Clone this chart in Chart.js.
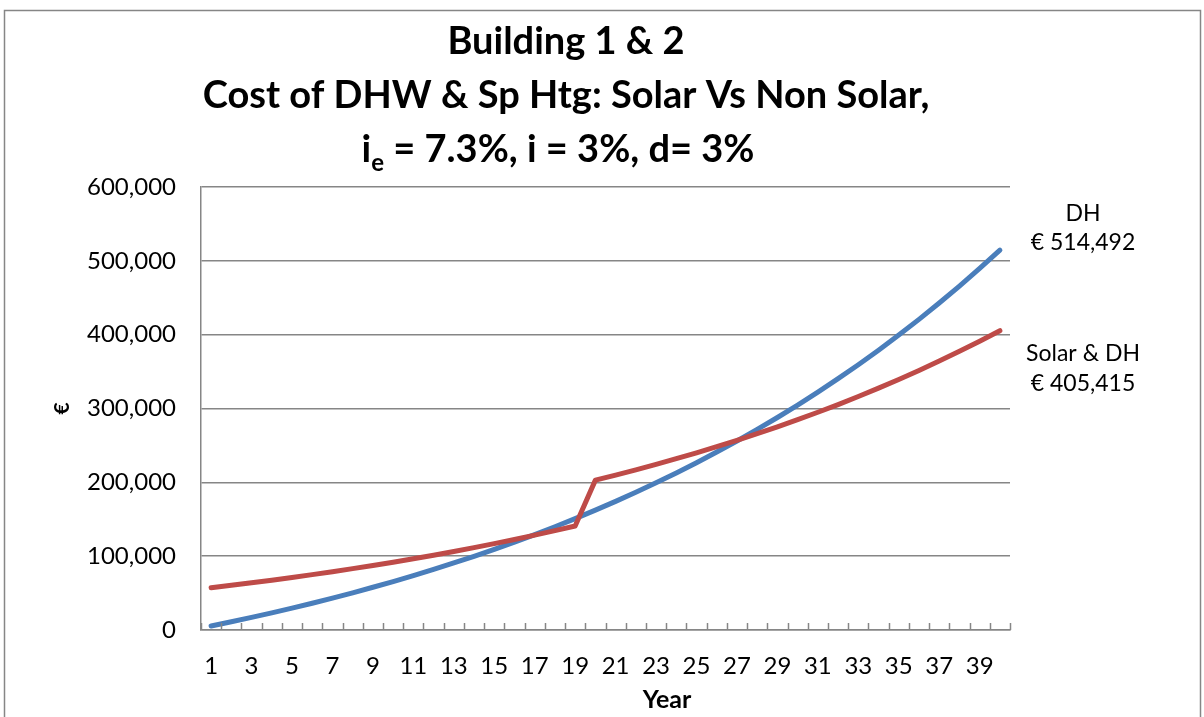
<!DOCTYPE html>
<html><head><meta charset="utf-8">
<script src="https://cdn.jsdelivr.net/npm/chart.js@4.4.1/dist/chart.umd.min.js"></script>
<style>html,body{margin:0;padding:0;background:#fff;overflow:hidden}canvas{display:block}</style>
</head><body>
<canvas id="c" width="1204" height="717"></canvas>
<script>
const years = ["1","2","3","4","5","6","7","8","9","10","11","12","13","14","15","16","17","18","19","20",
  "21","22","23","24","25","26","27","28","29","30","31","32","33","34","35","36","37","38","39","40"];
const dhValues = [5478,11172,17091,23245,29641,36290,43202,50386,57854,65617,
  73687,82077,90796,99860,109283,119078,129260,139843,150846,162282,
  174170,186528,199374,212727,226608,241036,256035,271626,287834,304681,
  322194,340399,359323,378994,399443,420699,442794,465763,489639,514492];
const solarDhValues = [57300,60572,63974,67510,71186,75006,78978,83106,87398,91859,
  96497,101318,106328,111537,116952,122581,128432,134514,140837,203000,
  209832,216934,224316,231989,239966,248258,256877,265836,275150,284832,
  294896,305358,316232,327536,339287,351503,364200,377399,391119,405415];
const seriesNames = ["DH", "Solar & DH"];
const endLabels = [["DH", "€ 514,492"], ["Solar & DH", "€ 405,415"]];
const titleLines = ["Building 1 & 2", "Cost of DHW & Sp Htg: Solar Vs Non Solar,"];
const titleLine3 = { base: "i", sub: "e", rest: " = 7.3%, i = 3%, d= 3%" };
const yAxisTitle = "€";
const xAxisTitle = "Year";

const FONT = "Lato, 'Open Sans', sans-serif";
const GRAY = "#868686";
const BLUE = "#4A7EBB";
const RED = "#BE4B48";

const decor = {
  id: "decor",
  beforeDraw(chart) {
    const ctx = chart.ctx;
    ctx.save();
    ctx.fillStyle = "#fff";
    ctx.fillRect(0, 0, chart.width, chart.height);
    ctx.strokeStyle = GRAY;
    ctx.lineWidth = 1.5;
    ctx.strokeRect(4.5, 10.5, 1196, 800);
    ctx.restore();
  },
  afterDraw(chart) {
    const ctx = chart.ctx, x = chart.scales.x, y = chart.scales.y, ca = chart.chartArea;
    ctx.save();
    // inside tick marks on category axis
    ctx.strokeStyle = GRAY; ctx.lineWidth = 1.5;
    const half = (x.getPixelForValue(1) - x.getPixelForValue(0)) / 2;
    for (let i = 0; i <= years.length; i++) {
      const px = Math.round(x.getPixelForValue(i) - half) + 0.5;
      ctx.beginPath(); ctx.moveTo(px, ca.bottom); ctx.lineTo(px, ca.bottom - 7); ctx.stroke();
    }
    // title
    ctx.fillStyle = "#000";
    ctx.textAlign = "center"; ctx.textBaseline = "alphabetic";
    const big = "bold 38px " + FONT, small = "bold 24px " + FONT;
    ctx.font = big;
    ctx.fillText(titleLines[0], 566, 54);
    ctx.fillText(titleLines[1], 566, 108);
    const w1 = ctx.measureText(titleLine3.base).width, w3 = ctx.measureText(titleLine3.rest).width;
    ctx.font = small; const w2 = ctx.measureText(titleLine3.sub).width;
    let sx = 558 - (w1 + w2 + w3) / 2;
    ctx.textAlign = "left";
    ctx.font = big; ctx.fillText(titleLine3.base, sx, 162); sx += w1;
    ctx.font = small; ctx.fillText(titleLine3.sub, sx, 171); sx += w2;
    ctx.font = big; ctx.fillText(titleLine3.rest, sx, 162);
    // x axis title
    ctx.textAlign = "center"; ctx.textBaseline = "middle";
    ctx.font = "bold 25px " + FONT;
    ctx.fillText(xAxisTitle, 667, 700);
    // end-of-series labels
    ctx.font = "23px " + FONT;
    const yDH = y.getPixelForValue(dhValues[dhValues.length - 1]);
    const ySol = y.getPixelForValue(solarDhValues[solarDhValues.length - 1]);
    ctx.fillText(endLabels[0][0], 1083, yDH - 37);
    ctx.fillText(endLabels[0][1], 1083, yDH - 8);
    ctx.fillText(endLabels[1][0], 1083, ySol + 23);
    ctx.fillText(endLabels[1][1], 1083, ySol + 53);
    ctx.restore();
  }
};

new Chart(document.getElementById("c"), {
  type: "line",
  data: {
    labels: years,
    datasets: [
      { label: seriesNames[0], data: dhValues, borderColor: BLUE, borderWidth: 5, pointRadius: 0, tension: 0, order: 1, borderCapStyle: "round", borderJoinStyle: "round" },
      { label: seriesNames[1], data: solarDhValues, borderColor: RED, borderWidth: 5, pointRadius: 0, tension: 0, order: 0, borderCapStyle: "round", borderJoinStyle: "round" }
    ]
  },
  options: {
    responsive: false,
    animation: false,
    events: [],
    layout: { padding: { top: 187, right: 194, left: 0, bottom: 0 } },
    plugins: { legend: { display: false }, tooltip: { enabled: false }, title: { display: false } },
    scales: {
      x: {
        type: "category",
        offset: true,
        grid: { display: true, drawOnChartArea: false, drawTicks: false },
        border: { display: true, color: GRAY, width: 1.5 },
        ticks: {
          autoSkip: false, maxRotation: 0, minRotation: 0, padding: 22,
          color: "#000", font: { family: FONT, size: 24 },
          callback: (v, i) => (i % 2 === 0 ? years[i] : "")
        },
        afterFit: (s) => { s.height = 87; }
      },
      y: {
        min: 0, max: 600000,
        grid: { color: GRAY, lineWidth: 1.5, drawTicks: false },
        border: { display: true, color: GRAY, width: 1.5 },
        ticks: {
          stepSize: 100000, padding: 25, color: "#000",
          font: { family: FONT, size: 24 },
          callback: (v) => v.toLocaleString("en-US")
        },
        title: { display: true, text: yAxisTitle, color: "#000", font: { family: FONT, size: 21, weight: "bold" }, padding: { top: 50, bottom: 0 } },
        afterFit: (s) => { s.width = 201; }
      }
    }
  },
  plugins: [decor]
});
</script>
</body></html>
